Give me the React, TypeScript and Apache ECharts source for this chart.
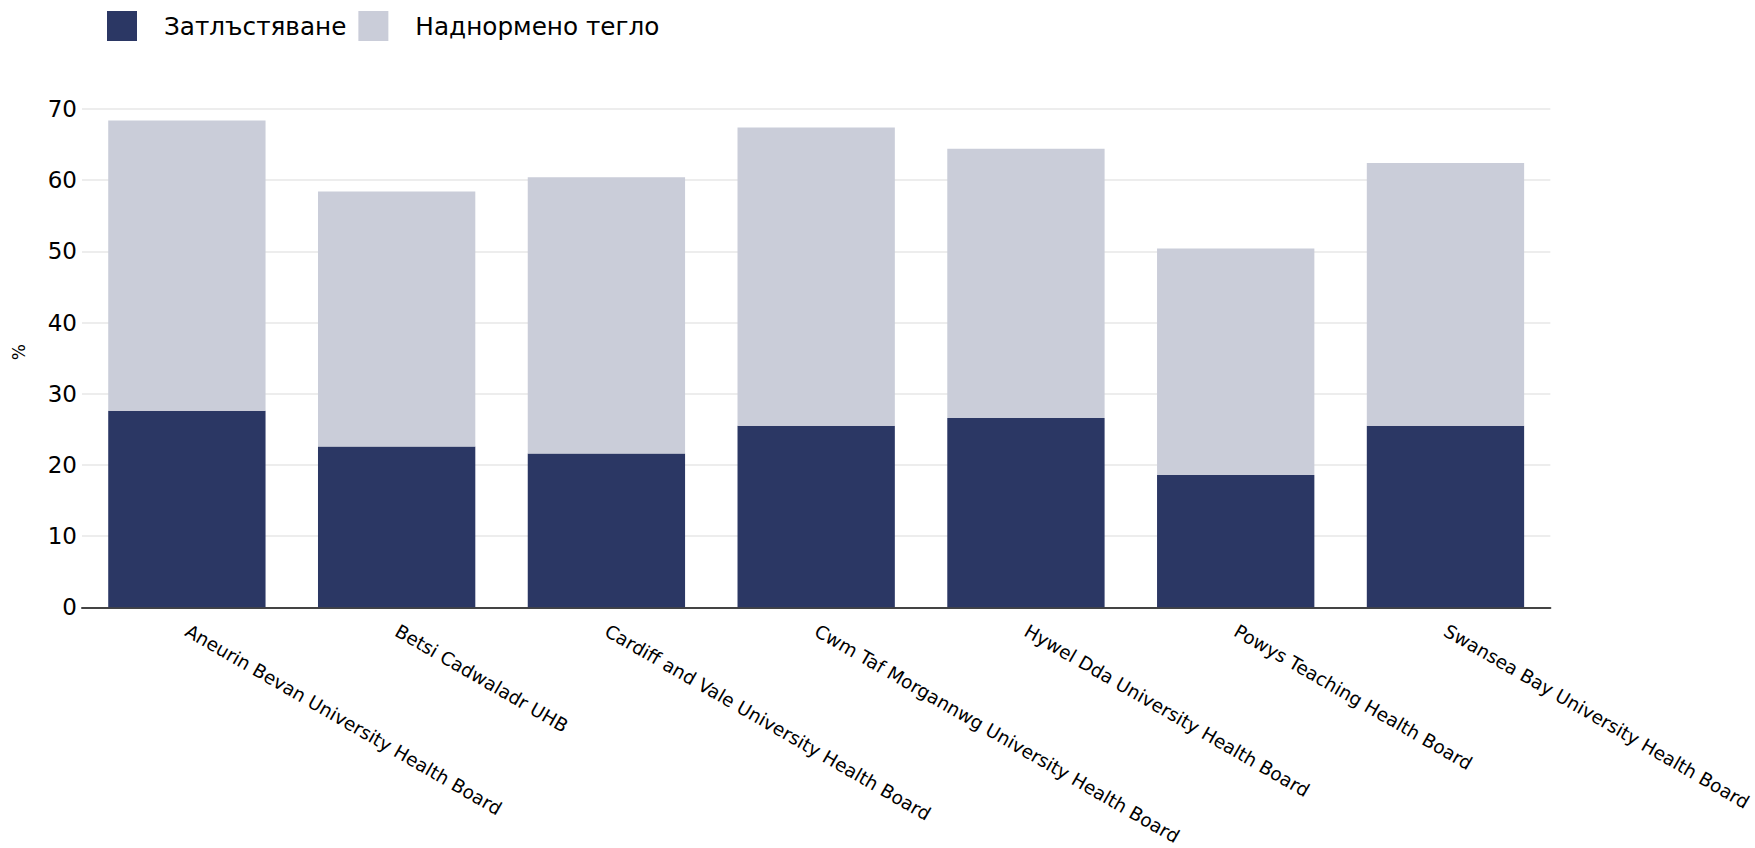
import React, { useEffect, useRef } from "react";
import * as echarts from "echarts";

const categories = [
  "Aneurin Bevan University Health Board",
  "Betsi Cadwaladr UHB",
  "Cardiff and Vale University Health Board",
  "Cwm Taf Morgannwg University Health Board",
  "Hywel Dda University Health Board",
  "Powys Teaching Health Board",
  "Swansea Bay University Health Board",
];
const obesity = [27.6, 22.6, 21.6, 25.5, 26.6, 18.6, 25.5];
const overweight = [40.8, 35.8, 38.8, 41.9, 37.8, 31.8, 36.9];
const seriesNames = ["Затлъстяване", "Наднормено тегло"];
const yTicks = [0, 10, 20, 30, 40, 50, 60, 70];

const FONT = "DejaVu Sans";

export default function App() {
  const ref = useRef<HTMLDivElement>(null);
  useEffect(() => {
    if (!ref.current) return;
    const chart = echarts.init(ref.current, undefined, { renderer: "svg" });
    chart.setOption({
      animation: false,
      backgroundColor: "#ffffff",
      textStyle: { fontFamily: FONT },
      legend: {
        left: 107,
        top: 11,
        itemWidth: 30,
        itemHeight: 30,
        itemGap: 12,
        icon: "rect",
        padding: 0,
        textStyle: {
          fontFamily: FONT,
          fontSize: 24.7,
          color: "#000000",
          padding: [0, 0, 0, 22],
        },
        data: seriesNames,
      },
      grid: { left: 82, right: 201, top: 109, bottom: 239.5, containLabel: false },
      xAxis: {
        type: "category",
        data: categories,
        axisLine: { show: true, lineStyle: { color: "#444444", width: 2 } },
        axisTick: { show: false },
        axisLabel: {
          rotate: -30,
          margin: 22,
          padding: [9, 0, 0, 0],
          fontFamily: FONT,
          fontSize: 18.5,
          color: "#000000",
          interval: 0,
        },
      },
      yAxis: {
        type: "value",
        min: yTicks[0],
        max: yTicks[yTicks.length - 1],
        interval: 10,
        name: "%",
        nameLocation: "middle",
        nameGap: 55,
        nameRotate: 90,
        nameTextStyle: {
          fontFamily: FONT,
          fontSize: 17,
          color: "#000000",
          padding: [0, 0, 0, 12],
        },
        axisLine: { show: false },
        axisTick: { show: false },
        splitLine: { show: true, lineStyle: { color: "#ededed", width: 2 } },
        axisLabel: { fontFamily: FONT, fontSize: 23, color: "#000000", margin: 5 },
      },
      series: [
        {
          name: seriesNames[0],
          type: "bar",
          stack: "total",
          data: obesity,
          barCategoryGap: "25%",
          itemStyle: { color: "#2b3764" },
        },
        {
          name: seriesNames[1],
          type: "bar",
          stack: "total",
          data: overweight,
          barCategoryGap: "25%",
          itemStyle: { color: "#cacdd9" },
        },
      ],
    });
    return () => chart.dispose();
  }, []);
  return (
    <div
      ref={ref}
      style={{ position: "absolute", left: 0, top: 0, width: 1755, height: 848 }}
    />
  );
}
